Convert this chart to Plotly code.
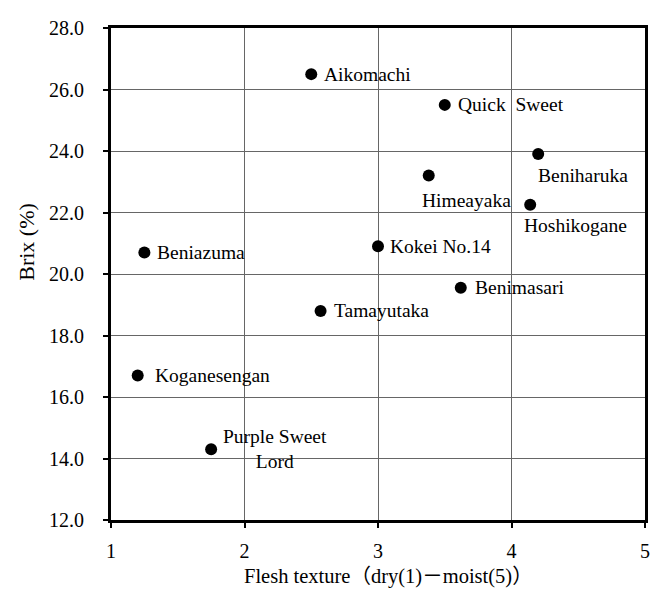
import plotly.graph_objects as go

# Data
varieties = ["Aikomachi", "Quick  Sweet", "Beniharuka", "Himeayaka", "Hoshikogane",
             "Kokei No.14", "Benimasari", "Beniazuma", "Tamayutaka", "Koganesengan",
             "Purple Sweet<br>Lord"]
texture = [2.50, 3.50, 4.20, 3.38, 4.14, 3.00, 3.62, 1.25, 2.57, 1.20, 1.75]
brix = [26.5, 25.5, 23.9, 23.2, 22.25, 20.9, 19.55, 20.7, 18.8, 16.7, 14.3]

x_ticks = [1, 2, 3, 4, 5]
y_ticks = [12, 14, 16, 18, 20, 22, 24, 26, 28]
y_tick_labels = ["12.0", "14.0", "16.0", "18.0", "20.0", "22.0", "24.0", "26.0", "28.0"]

# Label placement (pixel offsets, anchor)
label_style = [
    (12, 0, "left"), (12, 0, "left"), (-1, -21, "left"), (-8, -25, "left"),
    (-7, -21, "left"), (11, 0, "left"), (13, 0, "left"), (12, 0, "left"),
    (12, 0, "left"), (16, 0, "left"), (64, 0, "center"),
]

FONT = "Liberation Serif, Times New Roman, Noto Sans CJK JP, serif"

fig = go.Figure()
fig.add_trace(go.Scatter(
    x=texture, y=brix, mode="markers",
    marker=dict(size=12, color="black"),
    showlegend=False, hoverinfo="skip",
))

annotations = []
for name, xv, yv, (dx, dy, anc) in zip(varieties, texture, brix, label_style):
    annotations.append(dict(
        x=xv, y=yv, xref="x", yref="y", text=name, showarrow=False,
        xanchor=anc, yanchor="middle", xshift=dx, yshift=dy, align="center",
        borderpad=0, font=dict(family=FONT, size=19.5, color="black"),
    ))

annotations.append(dict(
    x=0.52, y=-0.114, xref="paper", yref="paper",
    text="Flesh texture（dry(1)－moist(5)）", showarrow=False,
    xanchor="center", yanchor="middle",
    font=dict(family=FONT, size=20.5, color="black"),
))
annotations.append(dict(
    x=-0.1596, y=0.565, xref="paper", yref="paper",
    text="Brix (%)", showarrow=False, textangle=-90,
    xanchor="center", yanchor="middle",
    font=dict(family=FONT, size=22, color="black"),
))

axis_common = dict(
    showline=True, linecolor="black", linewidth=3, mirror=True,
    showgrid=True, gridcolor="#666666", gridwidth=1,
    ticks="outside", ticklen=5, tickwidth=2, tickcolor="black",
    zeroline=False,
    tickfont=dict(family=FONT, size=20, color="black"),
)

fig.update_layout(
    width=651, height=583,
    margin=dict(l=103, r=9, t=11, b=71),
    paper_bgcolor="white", plot_bgcolor="white",
    xaxis=dict(range=[1, 5], tickvals=x_ticks, ticktext=[str(v) for v in x_ticks],
               ticklabelstandoff=6, **axis_common),
    yaxis=dict(range=[12, 28], tickvals=y_ticks, ticktext=y_tick_labels,
               ticklabelstandoff=15, **axis_common),
    annotations=annotations,
)

fig.write_html("out.html")
